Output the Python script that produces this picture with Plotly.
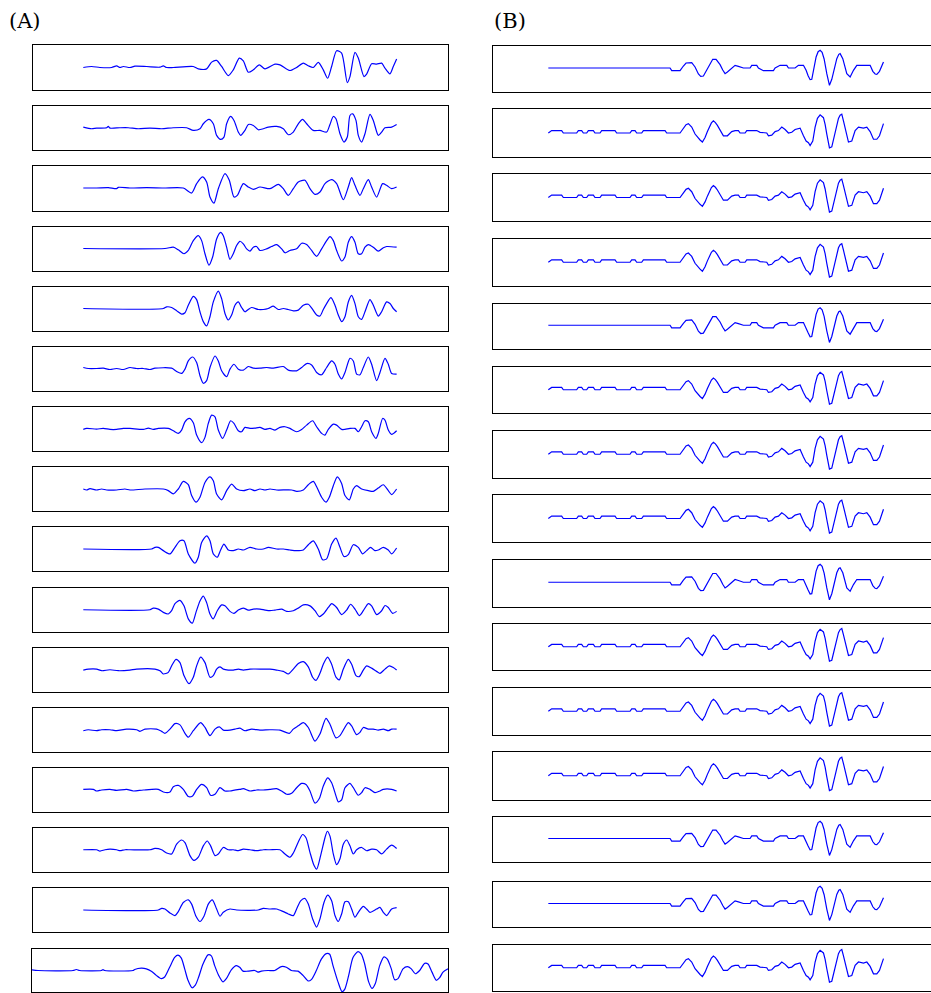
import plotly.graph_objects as go

# ---- Panel (A) traces: (time, amplitude) pairs ----
a01 = [(160,0),(185,3),(210,0),(245,0),(260,5),(270,0),(280,3),(300,0),(315,4),(350,3),(390,1),(400,5),(410,0),(430,0),(490,3),(505,-4),(530,-4),(545,16),(560,21),(575,3),(595,-24),(610,-7),(628,28),(640,20),(655,-14),(670,-7),(688,8),(705,-4),(735,10),(750,8),(780,-9),(800,0),(820,13),(835,5),(850,0),(865,15),(880,-7),(893,-32),(905,3),(920,50),(935,43),(952,-45),(960,-27),(975,45),(985,28),(1002,-27),(1010,-20),(1025,11),(1040,10),(1055,13),(1065,-2),(1080,-19),(1090,3),(1100,25)]
a02 = [(160,2),(185,-3),(200,-1),(230,0),(235,4),(240,-1),(270,0),(295,0),(325,-3),(360,-1),(395,-3),(430,0),(470,0),(490,-8),(510,-3),(520,12),(537,25),(550,12),(560,-23),(572,-35),(582,-28),(590,12),(602,34),(612,22),(625,-13),(632,-23),(645,-8),(655,10),(670,7),(685,-6),(700,-3),(715,2),(740,4),(760,-3),(775,-21),(790,-13),(805,12),(818,25),(830,12),(850,-8),(870,-8),(890,-13),(900,10),(910,34),(918,27),(930,-18),(942,-43),(952,-28),(960,37),(968,42),(978,22),(985,-23),(995,-43),(1005,-18),(1020,40),(1030,22),(1045,-23),(1055,-13),(1065,0),(1085,2),(1100,10)]
a03 = [(160,0),(200,0),(235,1),(260,-2),(265,2),(300,0),(350,1),(400,0),(460,0),(485,-15),(500,13),(517,33),(530,18),(540,-27),(552,-45),(565,-2),(585,43),(598,23),(612,-27),(622,-22),(640,13),(655,3),(670,-4),(690,3),(720,-2),(745,11),(760,-2),(775,-22),(790,-2),(805,18),(825,23),(840,-2),(855,-19),(870,-12),(885,13),(905,25),(920,13),(940,-35),(955,3),(965,31),(975,8),(990,-22),(1000,-2),(1015,25),(1025,3),(1040,-27),(1058,13),(1070,8),(1085,-2),(1100,3)]
a04 = [(160,0),(405,0),(430,4),(445,-4),(462,-16),(475,-6),(490,24),(505,39),(515,24),(525,-16),(537,-51),(548,-26),(560,29),(572,49),(580,39),(590,4),(600,-33),(610,-16),(620,9),(630,22),(640,14),(650,-1),(660,-8),(670,4),(680,6),(690,-6),(710,-1),(725,6),(740,12),(755,-1),(765,-13),(780,-6),(800,-1),(815,16),(830,12),(845,-6),(860,-24),(875,-1),(890,24),(900,36),(910,24),(920,-6),(935,-38),(945,-26),(955,19),(965,36),(975,19),(985,-16),(995,-16),(1005,4),(1015,12),(1030,4),(1045,-8),(1060,2),(1070,6),(1100,4)]
a05 = [(160,0),(400,0),(410,5),(425,3),(440,-7),(455,-17),(465,-13),(475,10),(490,37),(500,27),(510,-10),(520,-40),(530,-53),(540,-25),(550,20),(565,53),(575,30),(585,-15),(595,-35),(605,-20),(615,10),(625,20),(635,3),(645,-10),(655,-3),(665,3),(685,-3),(700,-3),(715,0),(730,7),(745,-3),(760,0),(775,-3),(790,-7),(805,-5),(820,10),(835,13),(848,-3),(860,-20),(870,-23),(880,-3),(890,15),(903,33),(915,10),(925,-20),(935,-40),(945,-25),(955,20),(965,40),(975,15),(985,-25),(995,-33),(1005,-10),(1020,27),(1030,10),(1045,-23),(1055,-10),(1070,20),(1080,15),(1090,0),(1100,-10)]
a06 = [(160,3),(175,0),(200,0),(220,1),(240,-3),(260,0),(280,-3),(300,3),(320,0),(340,0),(360,-3),(375,1),(425,1),(440,-9),(455,-15),(465,-2),(475,23),(488,35),(500,18),(510,-22),(520,-45),(530,-37),(540,3),(555,38),(565,23),(575,-7),(590,-25),(600,-2),(612,13),(625,-2),(640,-5),(655,6),(670,1),(690,1),(710,3),(730,1),(760,6),(775,-5),(800,-7),(815,3),(830,15),(845,11),(860,-12),(875,-19),(890,3),(905,23),(915,13),(925,-17),(935,-32),(945,-12),(960,31),(970,23),(980,-17),(990,-19),(1000,3),(1015,35),(1025,13),(1040,-37),(1050,-12),(1065,31),(1075,13),(1085,-15),(1100,-17)]
a07 = [(160,-2),(170,1),(200,-1),(220,1),(240,-2),(260,-2),(280,1),(300,1),(340,-2),(355,2),(370,-2),(385,1),(415,1),(430,-6),(445,-14),(455,-4),(465,21),(478,31),(490,18),(500,-19),(515,-42),(525,-26),(535,16),(545,41),(555,36),(565,-4),(578,-29),(590,-4),(602,24),(612,16),(625,-6),(635,-9),(645,4),(660,1),(675,2),(690,4),(705,-2),(720,1),(735,-4),(750,4),(765,6),(780,1),(800,-9),(815,-2),(830,11),(848,24),(860,6),(875,-14),(885,-19),(895,-2),(910,14),(920,11),(935,-2),(945,-2),(960,1),(975,1),(985,-9),(995,6),(1005,24),(1015,21),(1025,-9),(1038,-29),(1045,-14),(1058,31),(1065,26),(1075,-4),(1085,-17),(1100,-6)]
a08 = [(160,0),(170,-3),(180,1),(200,-3),(215,0),(230,-3),(260,-3),(285,0),(300,-3),(345,0),(400,0),(415,-5),(430,-15),(445,0),(460,23),(475,13),(485,-20),(498,-40),(510,-25),(525,20),(540,37),(550,25),(560,-15),(575,-33),(590,-5),(605,15),(620,0),(640,-5),(660,0),(675,-5),(690,0),(705,-3),(720,0),(740,-3),(785,-3),(800,-7),(820,-3),(835,13),(850,23),(860,7),(875,-25),(888,-40),(898,-25),(910,10),(922,37),(935,17),(945,-20),(958,-33),(970,0),(980,10),(995,0),(1015,-5),(1030,-7),(1045,3),(1060,13),(1075,-5),(1085,-17),(1100,0)]
a09 = [(160,0),(365,0),(375,5),(385,5),(400,-5),(420,-15),(435,5),(450,25),(462,25),(475,-15),(495,-43),(505,-25),(515,20),(530,40),(540,25),(550,-15),(562,-25),(572,-3),(582,15),(595,-3),(610,-5),(625,0),(640,-3),(660,5),(680,0),(700,0),(715,5),(740,0),(760,0),(780,-3),(800,-5),(820,-3),(835,13),(850,25),(865,0),(878,-33),(890,-30),(905,15),(918,33),(930,5),(942,-23),(955,-17),(970,13),(985,5),(998,-15),(1010,-5),(1022,5),(1035,-5),(1045,-3),(1060,5),(1075,-3),(1085,-15),(1100,3)]
a10 = [(160,0),(360,0),(370,5),(385,2),(400,-8),(415,-13),(425,-3),(435,19),(450,29),(462,12),(475,-28),(487,-41),(498,-8),(510,27),(520,42),(530,22),(540,-13),(550,-28),(562,-3),(575,15),(585,12),(600,-5),(612,-11),(625,-1),(640,5),(655,-1),(670,2),(690,2),(705,-1),(720,-3),(735,-1),(755,2),(770,-5),(790,-3),(805,5),(820,15),(840,12),(855,-3),(868,-21),(880,-13),(895,7),(905,19),(920,7),(935,-15),(950,-1),(962,17),(975,2),(988,-18),(1000,-3),(1015,19),(1025,12),(1040,-15),(1055,-3),(1065,13),(1075,7),(1088,-11),(1100,-5)]
a11 = [(160,-1),(175,2),(200,2),(215,-3),(240,0),(265,-3),(300,-1),(320,2),(375,2),(390,-3),(400,-13),(415,-8),(425,12),(438,32),(450,22),(462,-18),(477,-43),(490,-23),(500,12),(512,39),(525,22),(540,-23),(550,-18),(560,2),(570,9),(580,2),(595,-1),(610,-1),(625,2),(640,-1),(660,2),(700,2),(720,2),(740,-1),(760,-5),(775,-13),(790,2),(805,19),(820,25),(835,9),(848,-23),(858,-33),(870,-11),(880,17),(893,39),(905,17),(918,-23),(928,-31),(940,2),(955,32),(965,17),(978,-18),(988,-21),(1000,-1),(1010,12),(1025,5),(1040,-5),(1050,-11),(1065,2),(1078,12),(1090,7),(1100,-1)]
a12 = [(160,-3),(175,0),(200,-3),(215,0),(240,0),(260,-3),(290,2),(320,0),(330,-5),(345,2),(380,2),(395,-5),(405,-11),(420,2),(435,19),(450,15),(465,-11),(475,-23),(490,-3),(512,22),(525,7),(540,-18),(555,2),(568,9),(580,-1),(600,-1),(615,2),(630,5),(645,-3),(665,2),(690,-1),(720,0),(750,-1),(778,-11),(790,2),(805,12),(820,22),(835,7),(855,-35),(870,-13),(888,35),(900,17),(918,-25),(930,-18),(955,22),(965,12),(980,-15),(990,-8),(1000,7),(1015,2),(1030,2),(1045,-1),(1060,2),(1075,-3),(1085,2),(1100,2)]
a13 = [(160,2),(190,2),(200,-3),(215,0),(240,2),(260,-1),(290,2),(310,-3),(340,0),(385,2),(400,-6),(420,-6),(430,10),(445,14),(460,2),(475,-20),(488,-18),(500,2),(515,17),(530,7),(542,-16),(555,-13),(570,7),(585,-3),(600,-3),(630,2),(640,4),(660,-3),(680,0),(700,0),(720,2),(740,4),(755,-3),(770,-13),(785,-10),(800,7),(815,20),(828,17),(840,-3),(855,-40),(868,-26),(880,12),(893,37),(905,22),(918,-18),(925,-36),(935,-30),(945,7),(960,20),(970,7),(985,-16),(995,-8),(1005,7),(1020,2),(1035,-8),(1050,-3),(1060,2),(1085,2),(1100,-3)]
a14 = [(160,0),(200,0),(210,-4),(225,0),(240,2),(260,0),(270,-3),(285,0),(300,0),(360,0),(375,4),(395,0),(410,-10),(425,-13),(440,17),(455,30),(465,22),(480,-18),(492,-33),(505,-23),(520,12),(532,27),(542,12),(555,-18),(565,-13),(580,7),(595,0),(610,0),(625,-3),(640,2),(660,0),(680,-3),(700,0),(720,0),(750,0),(765,-13),(780,-23),(790,-10),(805,24),(818,47),(828,37),(840,-8),(852,-48),(860,-60),(872,-18),(885,37),(892,57),(900,42),(910,-13),(920,-46),(930,-28),(940,17),(950,30),(960,12),(970,-13),(980,0),(995,7),(1010,-3),(1025,2),(1040,0),(1055,-13),(1070,2),(1085,14),(1100,4)]
a15 = [(160,0),(385,0),(395,5),(405,3),(420,-9),(435,-17),(445,-5),(460,23),(475,31),(485,18),(498,-19),(510,-35),(522,-19),(535,18),(547,31),(560,3),(570,-19),(580,-7),(600,3),(620,0),(685,0),(700,5),(720,3),(740,3),(760,-5),(775,-12),(790,-17),(800,3),(812,28),(825,35),(835,18),(848,-27),(860,-52),(870,-27),(882,23),(893,45),(905,28),(915,-17),(925,-35),(935,-12),(945,25),(955,25),(965,3),(975,-22),(985,-7),(1000,11),(1010,3),(1020,-7),(1040,3),(1050,8),(1060,-7),(1070,-17),(1085,3),(1100,7)]
a16 = [(12,2),(30,0),(135,0),(145,3),(155,0),(220,0),(225,3),(230,0),(315,0),(320,3),(340,7),(355,5),(370,-2),(385,-15),(400,-25),(410,-20),(425,10),(440,40),(450,47),(460,38),(470,5),(480,-30),(492,-53),(502,-45),(512,-20),(525,20),(540,48),(550,45),(560,15),(572,-15),(585,-35),(595,-25),(610,2),(625,15),(635,10),(645,-2),(660,-2),(680,0),(690,-5),(700,-2),(720,0),(740,0),(760,12),(775,10),(790,0),(810,-2),(825,-15),(840,-32),(850,-28),(865,0),(880,35),(895,52),(905,50),(915,15),(930,-35),(942,-65),(950,-58),(962,-15),(975,40),(990,58),(1000,50),(1010,20),(1022,-35),(1032,-55),(1042,-40),(1055,15),(1068,42),(1078,35),(1090,5),(1100,-28),(1110,-25),(1125,5),(1138,12),(1150,5),(1162,-10),(1175,0),(1190,22),(1200,20),(1212,-5),(1225,-30),(1235,-22),(1245,-5),(1260,5)]

# ---- Panel (B) traces: two recurring waveforms ----
b_flat = [(175,3),(540,3),(545,-5),(570,-5),(580,9),(588,18),(605,19),(615,6),(625,-15),(632,-22),(640,-21),(648,-6),(655,6),(662,22),(668,29),(678,29),(685,20),(690,13),(698,-3),(705,-14),(712,-9),(725,1),(735,11),(745,8),(760,3),(780,3),(785,11),(800,11),(805,3),(820,-5),(850,-5),(855,3),(870,11),(890,11),(895,3),(915,3),(925,11),(940,11),(948,-4),(954,-20),(960,-32),(965,-31),(972,5),(978,36),(984,52),(990,56),(996,50),(1002,30),(1010,-14),(1018,-49),(1025,-31),(1032,2),(1040,31),(1046,44),(1050,46),(1058,31),(1064,10),(1070,-14),(1080,-24),(1090,-4),(1100,11),(1140,11),(1148,-7),(1155,-15),(1160,-16),(1168,-7),(1180,21)]
b_step = [(175,0),(185,7),(215,7),(220,0),(260,0),(265,7),(275,7),(280,0),(290,0),(295,7),(310,7),(315,0),(330,0),(335,7),(375,7),(380,0),(420,0),(425,7),(435,7),(440,0),(455,0),(460,7),(525,7),(530,0),(570,0),(580,14),(588,24),(595,27),(605,17),(615,-3),(623,-14),(630,-20),(637,-26),(645,-13),(652,4),(658,17),(664,29),(670,35),(676,30),(682,22),(688,11),(695,2),(700,-8),(712,-8),(725,4),(735,7),(745,7),(750,0),(765,0),(770,7),(800,7),(810,2),(830,0),(835,-8),(845,-6),(855,4),(865,7),(875,17),(885,10),(895,0),(905,2),(915,10),(930,14),(940,-8),(948,-23),(955,-28),(960,-36),(968,-23),(975,17),(982,42),(990,52),(1000,44),(1005,25),(1010,-3),(1018,-43),(1025,-40),(1035,2),(1045,42),(1050,51),(1055,54),(1060,35),(1065,14),(1075,-26),(1085,-23),(1095,7),(1105,17),(1120,14),(1130,17),(1140,4),(1150,-18),(1160,-18),(1168,-8),(1180,27)]
b_order = ["flat","step","step","step","flat","step","step","step","flat","step","step","step","flat","flat","step"]

W, H = 931, 993
A_top = [45,105.5,165.5,226.5,286.5,346.5,406.5,467,527,588,648,708,768,828,888,949]
A_bot = [90,150,210.5,270.5,330.5,390.5,451,511,571,631.5,691.5,751.5,812,871.5,932,992]
B_top = [46,109,174,238.5,303.5,366.5,430.5,495,560,623.5,687.5,752,817,882,944.5]
B_bot = [92,157,221,286,349,413,478,542,606.5,670,735,799.5,862,927,991]

fig = go.Figure()
layout = {}
count = [0]

def add_panel(points, x0, x1, top, bot, xr, yr, shape):
    count[0] += 1
    n = "" if count[0] == 1 else str(count[0])
    xs = [p[0] for p in points]
    ys = [p[1] for p in points]
    line = dict(color="#0000ff", width=1.2, shape=shape)
    if shape == "spline":
        line["smoothing"] = 0.7
    fig.add_trace(go.Scatter(x=xs, y=ys, mode="lines", line=line,
                             xaxis="x" + n, yaxis="y" + n, hoverinfo="skip", showlegend=False))
    ax = dict(showline=True, mirror=True, linecolor="black", linewidth=1.3,
              showticklabels=False, ticks="", showgrid=False, zeroline=False, fixedrange=True)
    layout["xaxis" + n] = dict(ax, domain=[x0 / W, x1 / W], range=xr, anchor="y" + n)
    layout["yaxis" + n] = dict(ax, domain=[1 - bot / H, 1 - top / H], range=yr, anchor="x" + n)

A_list = [a01,a02,a03,a04,a05,a06,a07,a08,a09,a10,a11,a12,a13,a14,a15]
for i, pts in enumerate(A_list):
    add_panel(pts, 33.3, 448.3, A_top[i], A_bot[i], [10, 1255], [-67, 67], "spline")
add_panel(a16, 32, 448, A_top[15], A_bot[15], [12, 1260], [-66, 66], "spline")

for i, kind in enumerate(b_order):
    pts = b_flat if kind == "flat" else b_step
    add_panel(pts, 493.3, 930.5, B_top[i], B_bot[i], [10, 1321], [-69, 69], "linear")

fig.update_layout(**layout)
fig.update_layout(
    width=W, height=H, margin=dict(l=0, r=0, t=0, b=0),
    paper_bgcolor="white", plot_bgcolor="white",
    annotations=[
        dict(text="(A)", x=7 / W, y=1 - 21 / H, xref="paper", yref="paper",
             xanchor="left", yanchor="middle", showarrow=False,
             font=dict(family="DejaVu Serif", size=21, color="black")),
        dict(text="(B)", x=492 / W, y=1 - 21 / H, xref="paper", yref="paper",
             xanchor="left", yanchor="middle", showarrow=False,
             font=dict(family="DejaVu Serif", size=21, color="black")),
    ],
)
fig.write_html("out.html")
